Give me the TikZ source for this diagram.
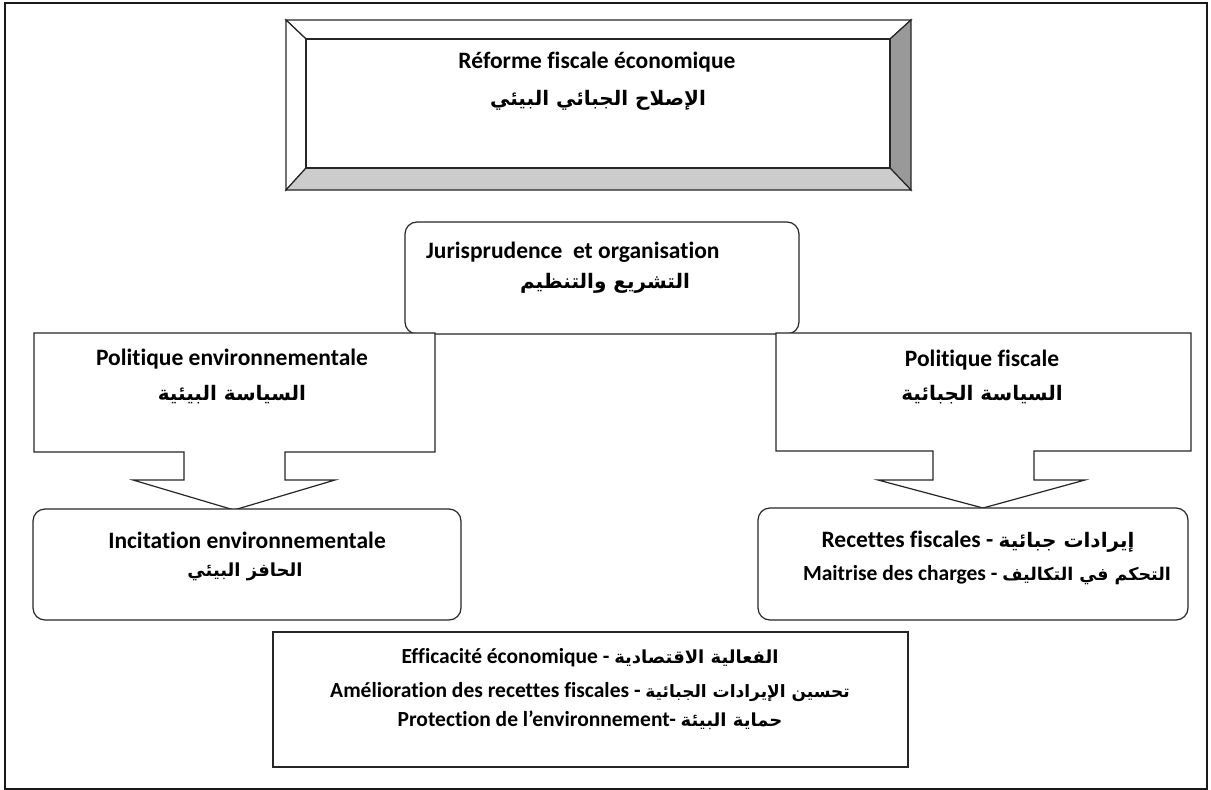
\documentclass[tikz,border=0pt]{standalone}
\usepackage{fontspec}
\setmainfont{Carlito}[Ligatures=NoCommon]
\newfontfamily\arabicfont[Script=Arabic]{DejaVu Sans}
\TeXXeTstate=1
% Arabic run inside a Latin line, at a given size
\newcommand{\artext}[2][20]{{\arabicfont\bfseries\fontsize{#1}{24}\selectfont\beginR #2\endR}}

\tikzset{
  box/.style={draw=black!85, line width=1.2pt, fill=white},
  rbox/.style={box, rounded corners=12pt},
  lat/.style={font=\fontsize{23.5}{26}\selectfont\bfseries, inner sep=0pt},
  latsm/.style={font=\fontsize{21.5}{26}\selectfont\bfseries, inner sep=0pt},
  arb/.style={font=\arabicfont\bfseries\fontsize{20}{24}\selectfont, inner sep=0pt},
}

\begin{document}
\begin{tikzpicture}[x=1pt,y=-1pt]
  \useasboundingbox (0,0) rectangle (1211,790);
  % outer frame
  \draw[line width=2pt, black!90] (5,3) rectangle (1207,789);

  % bevelled title box
  \begin{scope}[draw=black!85, line width=1.2pt, line join=miter]
    \filldraw[fill=white]   (286,20) -- (911,20) -- (890,39) -- (306,39) -- cycle;
    \filldraw[fill=white]   (286,20) -- (306,39) -- (306,168) -- (286,190) -- cycle;
    \filldraw[fill=black!40] (911,20) -- (911,190) -- (890,168) -- (890,39) -- cycle;
    \filldraw[fill=black!20] (286,190) -- (911,190) -- (890,168) -- (306,168) -- cycle;
    \draw (306,39) rectangle (890,168);
  \end{scope}
  \node[lat] (reformeFr) at (597,62) {Réforme fiscale économique};
  \node[arb] (reformeAr) at (598,100) {\beginR الإصلاح الجبائي البيئي\endR};

  % legislation box
  \draw[rbox] (405,222) rectangle (799,334);
  \node[lat, anchor=west] (jurisFr) at (426,252) {Jurisprudence\ \ et organisation};
  \node[arb] (jurisAr) at (605,283) {\beginR التشريع والتنظيم\endR};

  % environmental policy callout
  \filldraw[box] (34,333) -- (435,333) -- (435,452) -- (285,452) -- (285,480)
    -- (335,480) -- (234,510) -- (133,480) -- (184,480) -- (184,452)
    -- (34,452) -- cycle;
  \node[lat] (envFr) at (232,359) {Politique environnementale};
  \node[arb] (envAr) at (232,395) {\beginR السياسة البيئية\endR};

  % fiscal policy callout
  \filldraw[box] (776,333) -- (1191,333) -- (1191,451) -- (1034,451) -- (1034,480)
    -- (1085,480) -- (983,508) -- (878,480) -- (933,480) -- (933,451)
    -- (776,451) -- cycle;
  \node[lat] (fiscFr) at (982,360) {Politique fiscale};
  \node[arb] (fiscAr) at (982,395) {\beginR السياسة الجبائية\endR};

  % outcome boxes
  \draw[rbox] (33,509) rectangle (461,620);
  \node[lat] (incitFr) at (247,540) {Incitation environnementale};
  \node[arb, font=\arabicfont\bfseries\fontsize{18}{24}\selectfont] (incitAr) at (245,572) {\beginR الحافز البيئي\endR};

  \draw[rbox] (758,508) rectangle (1188,620);
  \node[lat] (recettes) at (978,542) {Recettes fiscales - \artext{إيرادات جبائية}};
  \node[latsm] (charges) at (987,575) {Maitrise des charges - \artext[17.5]{التحكم في التكاليف}};

  % results box
  \draw[box] (273,632) rectangle (908,767);
  \node[latsm] (effic) at (590,658) {Efficacité économique - \artext[18]{الفعالية الاقتصادية}};
  \node[latsm] (amelio) at (590,692) {Amélioration des recettes fiscales - \artext[17]{تحسين الإيرادات الجبائية}};
  \node[latsm] (protec) at (590,720) {Protection de l’environnement- \artext[18]{حماية البيئة}};
\end{tikzpicture}
\end{document}
